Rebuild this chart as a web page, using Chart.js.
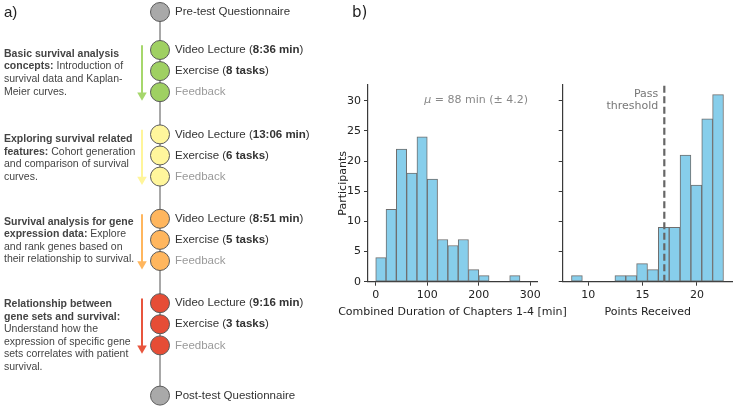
<!DOCTYPE html>
<html><head><meta charset="utf-8">
<script src="https://cdn.jsdelivr.net/npm/chart.js@4.4.1/dist/chart.umd.min.js"></script>
<style>
html,body{margin:0;padding:0;background:#fff;}
#wrap{position:relative;width:736px;height:407px;overflow:hidden;background:#fff;}
#wrap canvas{position:absolute;top:0;}
</style></head><body>
<div id="wrap">
<canvas id="timeline" width="330" height="407" style="left:0px"></canvas>
<canvas id="hist1" width="270" height="330" style="left:330px"></canvas>
<canvas id="hist2" width="196" height="330" style="left:540px"></canvas>
</div>
<script>
// ---------- data ----------
const lectureDurations = ['8:36 min', '13:06 min', '8:51 min', '9:16 min'];
const exerciseTasks = ['8 tasks', '6 tasks', '5 tasks', '3 tasks'];
const moduleDescriptions = [
  ['**Basic survival analysis**', '**concepts:** Introduction of', 'survival data and Kaplan-', 'Meier curves.'],
  ['**Exploring survival related**', '**features:** Cohort generation', 'and comparison of survival', 'curves.'],
  ['**Survival analysis for gene**', '**expression data:** Explore', 'and rank genes based on', 'their relationship to survival.'],
  ['**Relationship between**', '**gene sets and survival:**', 'Understand how the', 'expression of specific gene', 'sets correlates with patient', 'survival.']
];
const preLabel = 'Pre-test Questionnaire';
const postLabel = 'Post-test Questionnaire';

const durationBinEdges = [0, 20, 40, 60, 80, 100, 120, 140, 160, 180, 200, 220, 240, 260, 280];
const durationCounts   = [4, 12, 22, 18, 24, 17, 7, 6, 7, 2, 1, 0, 0, 1];
const durationTicks = [0, 100, 200, 300];

const pointsBinEdges = [8.45, 9.45, 10.45, 11.45, 12.45, 13.45, 14.45, 15.45, 16.45, 17.45, 18.45, 19.45, 20.45, 21.45, 22.45];
const pointsCounts   = [1, 0, 0, 0, 1, 1, 3, 2, 9, 9, 21, 16, 27, 31];
const pointsTicks = [10, 15, 20];
const passThreshold = 17;
const participantTicks = [0, 5, 10, 15, 20, 25, 30];
const meanDuration = '88 min (± 4.2)';
const durationLabel = 'Combined Duration of Chapters 1-4 [min]';
const pointsLabel = 'Points Received';

// ---------- styles ----------
const moduleColors = ['#9fd062', '#fff69c', '#ffb65e', '#e64d36'];
const arrowColors  = ['#a6d76c', '#fff59a', '#ffb65e', '#e8553d'];
const grayDot = '#a9a9a9';
const SANS = '"Liberation Sans", Arial, Helvetica, sans-serif';
const DJV = '"DejaVu Sans", sans-serif';

// timeline position units
const GROUP0 = 1.8, GROUP_GAP = 4.0, POST = 18.18;
const pos = (g, i) => GROUP0 + g * GROUP_GAP + i;

Chart.defaults.animation = false;
Chart.defaults.plugins.legend.display = false;
Chart.defaults.plugins.tooltip.enabled = false;

function drawRich(ctx, text, x, y, size, color, family) {
  const parts = text.split(/(\*\*[^*]+\*\*)/).filter(s => s.length);
  let cx = x;
  for (const p of parts) {
    const bold = p.startsWith('**');
    const t = bold ? p.slice(2, -2) : p;
    ctx.font = (bold ? 'bold ' : '') + size + 'px ' + family;
    ctx.fillStyle = color;
    ctx.fillText(t, cx, y);
    cx += ctx.measureText(t).width;
  }
}

// ---------- timeline (a) ----------
const dots = [{x: 0, y: 0}];
const dotColors = [grayDot];
moduleColors.forEach((c, g) => {
  for (let i = 0; i < 3; i++) { dots.push({x: 0, y: pos(g, i)}); dotColors.push(c); }
});
dots.push({x: 0, y: POST}); dotColors.push(grayDot);

const arrowSets = moduleColors.map((c, g) => ({
  type: 'line',
  data: [{x: -18, y: pos(g, 0) - 0.22}, {x: -18, y: pos(g, 2) + 0.14}],
  borderColor: arrowColors[g], borderWidth: 2,
  pointRadius: [0, 5.5], pointStyle: 'triangle', pointRotation: 180,
  pointBackgroundColor: arrowColors[g], pointBorderColor: arrowColors[g], pointBorderWidth: 0,
  order: 1
}));

const timelineText = {
  id: 'timelineText',
  afterDatasetsDraw(chart) {
    const {ctx, scales: {x, y}} = chart;
    const lx = x.getPixelForValue(0) + 15;
    ctx.save();
    ctx.textBaseline = 'middle';
    ctx.textAlign = 'left';
    ctx.font = '15px ' + SANS; ctx.fillStyle = '#222';
    ctx.fillText('a)', 4, 13);
    drawRich(ctx, preLabel, lx, y.getPixelForValue(0), 11.5, '#333', SANS);
    drawRich(ctx, postLabel, lx, y.getPixelForValue(POST), 11.5, '#333', SANS);
    const offs = [4, 5, 3, 1];
    moduleDescriptions.forEach((lines, g) => {
      drawRich(ctx, 'Video Lecture (**' + lectureDurations[g] + '**)', lx, y.getPixelForValue(pos(g, 0)), 11.5, '#333', SANS);
      drawRich(ctx, 'Exercise (**' + exerciseTasks[g] + '**)', lx, y.getPixelForValue(pos(g, 1)), 11.5, '#333', SANS);
      drawRich(ctx, 'Feedback', lx, y.getPixelForValue(pos(g, 2)), 11.5, '#9a9a9a', SANS);
      const y0 = y.getPixelForValue(pos(g, 0)) + offs[g];
      lines.forEach((ln, k) => drawRich(ctx, ln, 4, y0 + k * 12.6, 10.5, '#444', SANS));
    });
    ctx.restore();
  }
};

new Chart(document.getElementById('timeline'), {
  type: 'scatter',
  data: {
    datasets: [
      {data: dots, backgroundColor: dotColors, borderColor: '#5a5a5a', borderWidth: 1, pointRadius: 9.5, order: 0},
      ...arrowSets,
      {type: 'line', data: [{x: 0, y: 0}, {x: 0, y: POST}], borderColor: '#8c8c8c', borderWidth: 1.5, pointRadius: 0, order: 5}
    ]
  },
  options: {
    responsive: false,
    layout: {padding: 0, autoPadding: false},
    scales: {
      x: {type: 'linear', min: -160, max: 170, display: false},
      y: {type: 'linear', min: -0.569, max: 18.72, reverse: true, display: false}
    }
  },
  plugins: [timelineText]
});

// ---------- histograms (b) ----------
function binData(edges, counts) {
  return counts.map((c, i) => ({x: (edges[i] + edges[i + 1]) / 2, y: c}));
}
const axisColor = '#3a3a3a';
function yAxis(width, showLabels) {
  return {
    type: 'linear', min: 0, max: 32.6, z: 1,
    afterBuildTicks: s => { s.ticks = participantTicks.map(v => ({value: v})); },
    afterFit: s => { s.width = width; },
    border: {display: true, color: axisColor, width: 1.2},
    grid: {display: true, drawOnChartArea: false, drawTicks: true, tickLength: 4, color: axisColor, tickWidth: 1},
    ticks: {padding: 3, color: '#222', font: {family: DJV, size: 11}, callback: v => showLabels ? String(v) : ''},
    title: {display: showLabels, text: 'Participants', color: '#222', font: {family: DJV, size: 11}, padding: {top: 6.4, bottom: 0}}
  };
}
function xAxis(min, max, ticks) {
  return {
    type: 'linear', min, max, offset: false, z: 1,
    afterBuildTicks: s => { s.ticks = ticks.map(v => ({value: v})); },
    afterFit: s => { s.height = 48.3; },
    border: {display: true, color: axisColor, width: 1.2},
    grid: {display: true, offset: false, drawOnChartArea: false, drawTicks: true, tickLength: 4, color: axisColor, tickWidth: 1},
    ticks: {padding: 3, color: '#222', font: {family: DJV, size: 11}, maxRotation: 0},
    title: {display: false}
  };
}
const barStyle = {backgroundColor: '#87ceeb', borderColor: '#6e6e6e', borderWidth: 1, borderSkipped: false, barPercentage: 1, categoryPercentage: 1};

function drawXLabel(chart, text) {
  const {ctx, chartArea} = chart;
  ctx.save();
  ctx.textBaseline = 'middle';
  ctx.textAlign = 'center';
  ctx.fillStyle = '#222';
  ctx.font = '11px ' + DJV;
  ctx.fillText(text, (chartArea.left + chartArea.right) / 2, 311.7);
  ctx.restore();
}

const meanText = {
  id: 'meanText',
  afterDatasetsDraw(chart) {
    const {ctx} = chart;
    drawXLabel(chart, durationLabel);
    ctx.save();
    ctx.textBaseline = 'middle';
    ctx.fillStyle = '#222';
    ctx.font = '15px ' + DJV;
    ctx.fillText('b)', 22, 13);
    ctx.fillStyle = '#888';
    ctx.font = 'italic 11px ' + DJV;
    const mu = 'μ';
    const wMu = ctx.measureText(mu).width;
    ctx.font = '11px ' + DJV;
    const rest = ' = ' + meanDuration;
    const wRest = ctx.measureText(rest).width;
    const right = 198;
    ctx.font = 'italic 11px ' + DJV;
    ctx.fillText(mu, right - wRest - wMu, 100);
    ctx.font = '11px ' + DJV;
    ctx.fillText(rest, right - wRest, 100);
    ctx.restore();
  }
};

new Chart(document.getElementById('hist1'), {
  type: 'bar',
  data: {datasets: [{data: binData(durationBinEdges, durationCounts), ...barStyle}]},
  options: {
    responsive: false,
    layout: {padding: {top: 85, right: 63, left: 0, bottom: 0}},
    scales: {x: xAxis(-15, 313, durationTicks), y: yAxis(38, true)}
  },
  plugins: [meanText]
});

const passText = {
  id: 'passText',
  afterDatasetsDraw(chart) {
    const {ctx, scales: {x}} = chart;
    drawXLabel(chart, pointsLabel);
    const px = x.getPixelForValue(passThreshold) - 6;
    ctx.save();
    ctx.textBaseline = 'middle';
    ctx.textAlign = 'right';
    ctx.fillStyle = '#777';
    ctx.font = '11px ' + DJV;
    ctx.fillText('Pass', px, 94);
    ctx.fillText('threshold', px, 106.5);
    ctx.restore();
  }
};

new Chart(document.getElementById('hist2'), {
  type: 'bar',
  data: {datasets: [
    {type: 'line', data: [{x: passThreshold, y: 0}, {x: passThreshold, y: 32.6}], borderColor: '#666', borderWidth: 2.2, borderDash: [7, 3.5], pointRadius: 0, order: 0, clip: false},
    {data: binData(pointsBinEdges, pointsCounts), ...barStyle, order: 1}
  ]},
  options: {
    responsive: false,
    layout: {padding: {top: 85, right: 3.3, left: 0, bottom: 0}},
    scales: {x: xAxis(7.64, 23.3, pointsTicks), y: yAxis(22.7, false)}
  },
  plugins: [passText]
});
</script>
</body></html>
